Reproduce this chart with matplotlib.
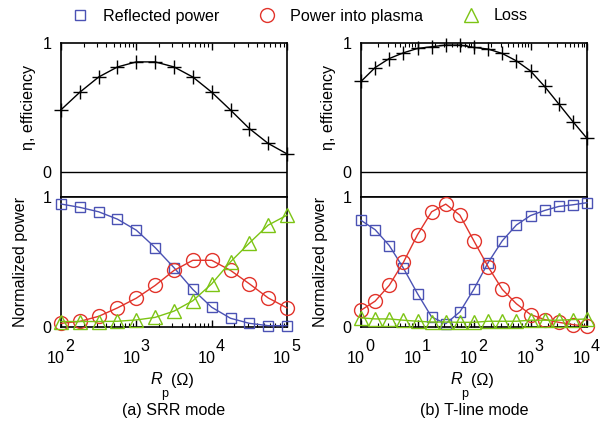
import matplotlib
matplotlib.use("Agg")
import matplotlib.pyplot as plt
from matplotlib.lines import Line2D

plt.rcParams['font.family'] = ['Liberation Sans', 'DejaVu Sans']

# ---------------- data ----------------
# (a) SRR mode, Rp from 1e2 to 1e5 (quarter-decade steps)
rp_a = [100, 178, 316, 562, 1000, 1778, 3162, 5623, 10000, 17783, 31623, 56234, 100000]
eta_a = [0.484, 0.62, 0.737, 0.815, 0.854, 0.854, 0.815, 0.737, 0.62, 0.482, 0.339, 0.224, 0.143]
refl_a = [0.946, 0.920, 0.886, 0.829, 0.744, 0.610, 0.455, 0.287, 0.150, 0.065, 0.026, 0.008, 0.008]
plasma_a = [0.026, 0.041, 0.080, 0.145, 0.220, 0.318, 0.434, 0.512, 0.512, 0.434, 0.331, 0.222, 0.145]
loss_a = [0.04, 0.04, 0.04, 0.042, 0.052, 0.072, 0.12, 0.20, 0.33, 0.50, 0.645, 0.783, 0.86]

# (b) T-line mode, Rp from 1e0 to 1e4 (quarter-decade steps)
rp_b = [1.0, 1.778, 3.162, 5.623, 10.0, 17.78, 31.62, 56.23, 100.0, 177.8, 316.2, 562.3,
        1000.0, 1778.0, 3162.0, 5623.0, 10000.0]
eta_b = [0.703, 0.81, 0.88, 0.924, 0.958, 0.971, 0.984, 0.984, 0.966, 0.953, 0.919, 0.862,
         0.784, 0.664, 0.529, 0.393, 0.263]
refl_b = [0.82, 0.748, 0.626, 0.452, 0.255, 0.075, 0.023, 0.114, 0.291, 0.494, 0.662, 0.784,
          0.857, 0.896, 0.927, 0.94, 0.956]
plasma_b = [0.127, 0.197, 0.319, 0.496, 0.709, 0.886, 0.945, 0.860, 0.660, 0.462, 0.288, 0.177,
            0.094, 0.055, 0.034, 0.016, 0.003]
loss_b = [0.068, 0.06, 0.06, 0.05, 0.042, 0.036, 0.036, 0.034, 0.034, 0.042, 0.042, 0.042,
          0.05, 0.05, 0.05, 0.055, 0.06]

ticks_a = [1e2, 1e3, 1e4, 1e5]
ticks_b = [1e0, 1e1, 1e2, 1e3, 1e4]
exps_a = ['2', '3', '4', '5']
exps_b = ['0', '1', '2', '3', '4']

series_names = ['Reflected power', 'Power into plasma', 'Loss']
captions = ['(a) SRR mode', '(b) T-line mode']

# ---------------- style ----------------
C_BLUE = '#4B52B4'
C_RED = '#E2342B'
C_GREEN = '#7CC414'
FS = 11.6

fig = plt.figure(figsize=(6.05, 4.30), dpi=100)
W, H = 605.0, 430.0


def fx(px):
    return px / W


def fy(py):
    return 1 - py / H


panels = [
    dict(x0=61, x1=287, rp=rp_a, eta=eta_a, refl=refl_a, plasma=plasma_a, loss=loss_a,
         ticks=ticks_a, exps=exps_a, xlim=(1e2, 1e5), cap=captions[0]),
    dict(x0=361, x1=587, rp=rp_b, eta=eta_b, refl=refl_b, plasma=plasma_b, loss=loss_b,
         ticks=ticks_b, exps=exps_b, xlim=(1e0, 1e4), cap=captions[1]),
]

top_y0, top_y1 = 43, 197
bot_y0, bot_y1 = 197, 326.7

for p in panels:
    ax_t = fig.add_axes([fx(p['x0']), fy(top_y1), fx(p['x1'] - p['x0']), (top_y1 - top_y0) / H])
    ax_b = fig.add_axes([fx(p['x0']), fy(bot_y1), fx(p['x1'] - p['x0']), (bot_y1 - bot_y0) / H])

    for ax in (ax_t, ax_b):
        ax.set_xscale('log')
        ax.set_xlim(*p['xlim'])
        for s in ax.spines.values():
            s.set_linewidth(1.2)
        ax.tick_params(axis='y', which='both', length=0, pad=7, labelsize=FS)
        ax.set_xticks(p['ticks'])
        ax.set_xticklabels([])

    # top panel
    ax_t.set_ylim(-0.19, 1.0)
    ax_t.set_yticks([0, 1])
    ax_t.set_yticklabels(['0', '1'])
    ax_t.axhline(0, color='black', lw=1.0)
    ax_t.plot(p['rp'], p['eta'], color='black', lw=1.0, marker='+', ms=10, mew=1.0,
              clip_on=False, zorder=3)
    ax_t.tick_params(axis='x', which='both', direction='in', top=True, bottom=False,
                     labeltop=False, labelbottom=False)
    ax_t.tick_params(axis='x', which='major', length=5, width=1)
    ax_t.tick_params(axis='x', which='minor', length=3, width=0.8)
    ax_t.set_ylabel('η, efficiency', fontsize=FS)
    ax_t.yaxis.set_label_coords(-0.112, (0.5 + 0.19) / 1.19)

    # bottom panel
    ax_b.set_ylim(0, 1.0)
    ax_b.set_yticks([0, 1])
    ax_b.set_yticklabels(['0', '1'])
    ax_b.plot(p['rp'], p['refl'], color=C_BLUE, lw=1.0, marker='s', ms=7.5, mfc='none',
              mec=C_BLUE, mew=1.0, clip_on=False, zorder=3)
    ax_b.plot(p['rp'], p['plasma'], color=C_RED, lw=1.0, marker='o', ms=10, mfc='none',
              mec=C_RED, mew=1.0, clip_on=False, zorder=3)
    ax_b.plot(p['rp'], p['loss'], color=C_GREEN, lw=1.0, marker='^', ms=10, mfc='none',
              mec=C_GREEN, mew=1.0, clip_on=False, zorder=3)
    ax_b.tick_params(axis='x', which='both', direction='in', top=False, bottom=True,
                     labelbottom=False)
    ax_b.tick_params(axis='x', which='major', length=5, width=1)
    ax_b.tick_params(axis='x', which='minor', length=3, width=0.8)
    ax_b.set_ylabel('Normalized power', fontsize=FS)
    ax_b.yaxis.set_label_coords(-0.145, 0.5)

    # custom tick labels "10" with raised exponent
    for t, e in zip(p['ticks'], p['exps']):
        ax_b.annotate('10', xy=(t, 0), xycoords=('data', 'axes fraction'),
                      xytext=(4, -32), textcoords='offset pixels',
                      ha='right', va='center', fontsize=FS, annotation_clip=False)
        ax_b.annotate(e, xy=(t, 0), xycoords=('data', 'axes fraction'),
                      xytext=(4, -20), textcoords='offset pixels',
                      ha='left', va='center', fontsize=FS, annotation_clip=False)

    # x label R_p (Ω)
    cx = (p['x0'] + p['x1']) / 2.0
    fig.text(fx(cx - 12), fy(380), 'R', style='italic', ha='right', va='center', fontsize=FS)
    fig.text(fx(cx - 13), fy(394), 'p', ha='left', va='center', fontsize=9)
    fig.text(fx(cx - 3), fy(380), '(Ω)', ha='left', va='center', fontsize=FS)

    # caption
    fig.text(fx(cx), fy(410), p['cap'], ha='center', va='center', fontsize=FS)

handles = [
    Line2D([], [], ls='none', marker='s', ms=7.5, mfc='none', mec=C_BLUE, mew=1.0),
    Line2D([], [], ls='none', marker='o', ms=10, mfc='none', mec=C_RED, mew=1.0),
    Line2D([], [], ls='none', marker='^', ms=10, mfc='none', mec=C_GREEN, mew=1.0),
]
fig.legend(handles, series_names, loc='center', bbox_to_anchor=(0.496, fy(16)), ncol=3,
           frameon=False, fontsize=FS, handlelength=1.0, handletextpad=0.9,
           columnspacing=2.5, borderpad=0, borderaxespad=0)

fig.savefig('out.png', dpi=100)
